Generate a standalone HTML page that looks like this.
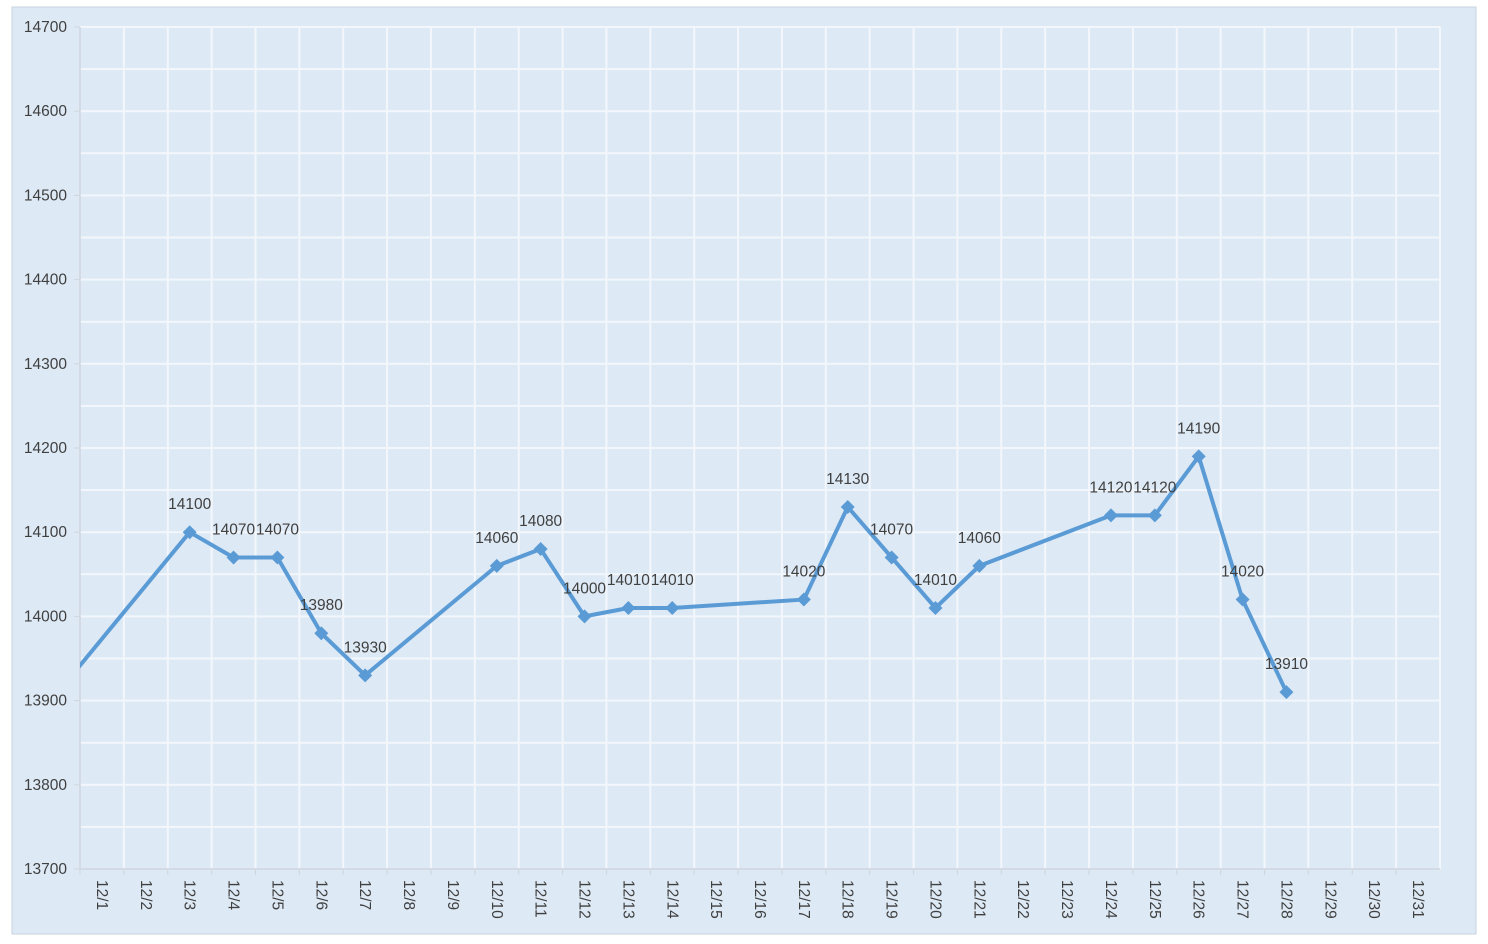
<!DOCTYPE html>
<html><head><meta charset="utf-8"><style>
html,body{margin:0;padding:0;background:#fff;}
svg{display:block;font-family:"Liberation Sans",sans-serif;}
</style></head><body>
<svg id="chart" width="1488" height="944">
<rect x="12" y="7" width="1464" height="927" fill="#dde9f5" stroke="#c8d3df"/>
<defs><clipPath id="pc"><rect x="80" y="27" width="1360" height="842"/></clipPath></defs>
<g id="grid"></g><g id="axes"></g><g id="series" clip-path="url(#pc)"></g><g id="marks"></g>
</svg>
<script>
const categories = [];
for (let i = 1; i <= 31; i++) categories.push('12/' + i);
const yTicks = [13700,13800,13900,14000,14100,14200,14300,14400,14500,14600,14700];
const pointIdx = [2,3,4,5,6,9,10,11,12,13,16,17,18,19,20,23,24,25,26,27];
const pointVal = [14100,14070,14070,13980,13930,14060,14080,14000,14010,14010,14020,14130,14070,14010,14060,14120,14120,14190,14020,13910];
const leadIdx = -1, leadVal = 13910;

const X0=80, X1=1440, Y0=869, Y1=27, YMIN=13700, YMAX=14700;
const step=(X1-X0)/categories.length;
const xs=i=>X0+(i+0.5)*step;
const ys=v=>Y0-(v-YMIN)/(YMAX-YMIN)*(Y0-Y1);
const NS='http://www.w3.org/2000/svg';
function mk(t,a,p){const e=document.createElementNS(NS,t);for(const k in a)e.setAttribute(k,a[k]);p.appendChild(e);return e;}
const grid=document.getElementById('grid'),axes=document.getElementById('axes'),ser=document.getElementById('series'),marks=document.getElementById('marks');
for(let v=YMIN+50;v<=YMAX;v+=50){
  const l=mk('line',{x1:X0,x2:X1,y1:ys(v),y2:ys(v),stroke:'#f3f7fc','stroke-width':2},grid);
  
  
}
for(let i=1;i<=categories.length;i++){
  const l=mk('line',{x1:X0+i*step,x2:X0+i*step,y1:Y1,y2:Y0,stroke:'#f3f7fc','stroke-width':2},grid);
  
  
}
mk('line',{x1:X0,x2:X1,y1:Y0,y2:Y0,stroke:'#d0d6dd','stroke-width':1.5},axes);
mk('line',{x1:X0,x2:X0,y1:Y1,y2:Y0,stroke:'#d0d6dd','stroke-width':1.5},axes);
yTicks.forEach(v=>{
  mk('line',{x1:X0-6,x2:X0,y1:ys(v),y2:ys(v),stroke:'#d0d6dd'},axes);
  const t=mk('text',{x:67,y:ys(v)+5,'text-anchor':'end','font-size':15.5,fill:'#404040'},axes);
  t.textContent=v;
  
  
});
categories.forEach((c,i)=>{
  mk('line',{x1:X0+i*step,x2:X0+i*step,y1:Y0,y2:Y0+6,stroke:'#d0d6dd'},axes);
  const x=xs(i)-5,y=Y0+11;
  const t=mk('text',{x:x,y:y,transform:`rotate(90 ${x} ${y})`,'font-size':15.5,fill:'#404040'},axes);
  t.textContent=c;
  
  
});
let d=`M${xs(leadIdx)},${ys(leadVal)}`;
pointIdx.forEach((ix,k)=>{d+=` L${xs(ix)},${ys(pointVal[k])}`;});
const p=mk('path',{d:d,fill:'none',stroke:'#5b9bd5','stroke-width':4,'stroke-linejoin':'round'},ser);


pointIdx.forEach((ix,k)=>{
  const x=xs(ix),y=ys(pointVal[k]);
  const m=mk('polygon',{points:`${x},${y-7} ${x+7},${y} ${x},${y+7} ${x-7},${y}`,fill:'#5b9bd5'},marks);
  
  
  const t=mk('text',{x:x,y:y-23,'text-anchor':'middle','font-size':15.5,fill:'#404040'},marks);
  t.textContent=pointVal[k];
  
  
});
</script>
</body></html>
